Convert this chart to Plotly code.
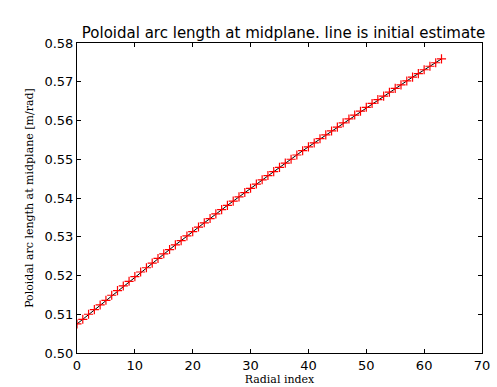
import plotly.graph_objects as go

radial_index = list(range(64))
arc_length = [
    0.5075, 0.5087, 0.5100, 0.5112, 0.5124, 0.5136, 0.5149, 0.5161,
    0.5173, 0.5185, 0.5197, 0.5209, 0.5220, 0.5232, 0.5244, 0.5256,
    0.5267, 0.5279, 0.5290, 0.5302, 0.5313, 0.5325, 0.5336, 0.5347,
    0.5359, 0.5370, 0.5381, 0.5392, 0.5403, 0.5414, 0.5425, 0.5436,
    0.5447, 0.5458, 0.5468, 0.5479, 0.5490, 0.5500, 0.5511, 0.5522,
    0.5532, 0.5542, 0.5553, 0.5563, 0.5573, 0.5583, 0.5594, 0.5604,
    0.5614, 0.5624, 0.5634, 0.5644, 0.5654, 0.5663, 0.5673, 0.5683,
    0.5692, 0.5702, 0.5712, 0.5721, 0.5731, 0.5740, 0.5749, 0.5759,
]
initial_estimate = arc_length[:]

x_ticks = [0, 10, 20, 30, 40, 50, 60, 70]
y_ticks = [0.50, 0.51, 0.52, 0.53, 0.54, 0.55, 0.56, 0.57, 0.58]

fig = go.Figure()
fig.add_trace(go.Scatter(x=radial_index, y=initial_estimate, mode="lines",
                         line=dict(color="black", width=1), showlegend=False))
fig.add_trace(go.Scatter(x=radial_index, y=arc_length, mode="markers",
                         marker=dict(symbol="cross-thin", size=6.5,
                                     line=dict(color="red", width=1.2), color="red"),
                         showlegend=False))

axis_common = dict(showline=True, linecolor="black", linewidth=1, mirror="ticks",
                   ticks="inside", ticklen=4, tickcolor="black", showgrid=False,
                   zeroline=False, ticklabeloverflow="allow",
                   tickfont=dict(family="DejaVu Sans", size=13, color="black"))

fig.update_layout(
    width=497, height=387,
    margin=dict(l=77, r=7, t=43, b=34),
    paper_bgcolor="white", plot_bgcolor="white",
    title=dict(text="Poloidal arc length at midplane. line is initial estimate",
               x=0.5705, xanchor="center", y=0.915, yanchor="middle",
               font=dict(family="DejaVu Sans", size=15, color="black")),
    xaxis=dict(range=[0, 70], tickvals=x_ticks, **axis_common,
               title=dict(text="Radial index", standoff=0,
                          font=dict(family="DejaVu Serif", size=11, color="black"))),
    yaxis=dict(range=[0.50, 0.58], tickvals=y_ticks, tickformat=".2f", **axis_common,
               title=dict(text="Poloidal arc length at midplane [m/rad]", standoff=8,
                          font=dict(family="DejaVu Serif", size=11, color="black"))),
)

fig.write_html("out.html")
